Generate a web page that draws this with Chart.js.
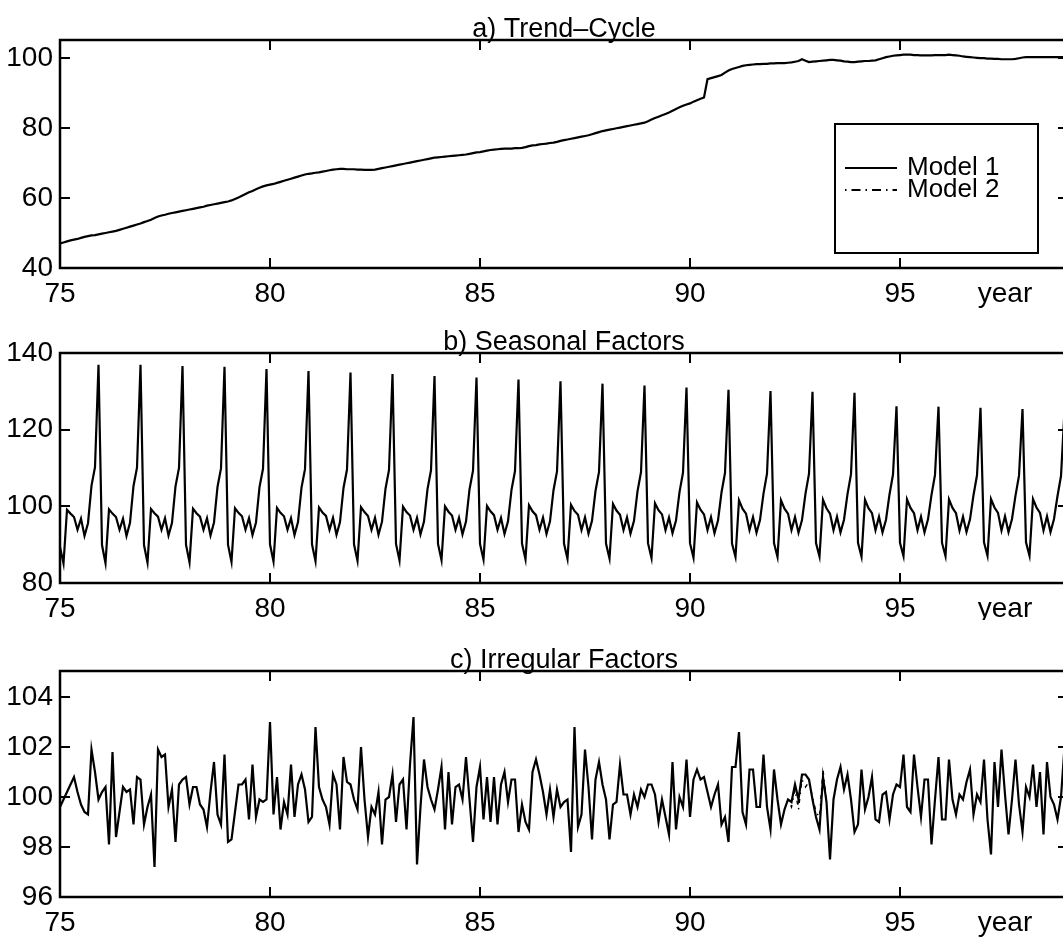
<!DOCTYPE html>
<html>
<head>
<meta charset="utf-8">
<script src="https://cdn.jsdelivr.net/npm/chart.js@4"></script>
<style>
html, body { margin: 0; padding: 0; background: #fff; overflow: hidden; }
#wrap { position: relative; width: 1063px; height: 943px; overflow: hidden; }
canvas { position: absolute; left: 0; }
</style>
</head>
<body>
<div id="wrap">
  <canvas id="trendChart" width="1070" height="320" style="top:0px"></canvas>
  <canvas id="seasonalChart" width="1070" height="300" style="top:320px"></canvas>
  <canvas id="irregularChart" width="1070" height="323" style="top:620px"></canvas>
</div>
<script>
// monthly series, first value = Jan 75
const START_YEAR = 75;
const xTicks = [75, 80, 85, 90, 95];
const trendTicks = [40, 60, 80, 100];
const seasonalTicks = [80, 100, 120, 140];
const irregularTicks = [96, 98, 100, 102, 104];
const seriesNames = ['Model 1', 'Model 2'];
const panelTitles = ['a) Trend\u2013Cycle', 'b) Seasonal Factors', 'c) Irregular Factors'];

const trendModel1 = [
  47.0, 47.3, 47.6, 47.9, 48.1, 48.3, 48.6, 48.9, 49.1, 49.3, 49.4, 49.6,
  49.8, 50.0, 50.2, 50.4, 50.6, 50.9, 51.2, 51.5, 51.8, 52.1, 52.4, 52.7,
  53.1, 53.4, 53.8, 54.3, 54.7, 55.0, 55.2, 55.5, 55.7, 55.9, 56.1, 56.3,
  56.5, 56.7, 56.9, 57.1, 57.3, 57.5, 57.8, 58.0, 58.2, 58.4, 58.6, 58.8,
  59.0, 59.3, 59.7, 60.1, 60.6, 61.1, 61.6, 62.0, 62.5, 62.9, 63.3, 63.6,
  63.8, 64.0, 64.3, 64.6, 64.9, 65.2, 65.5, 65.8, 66.1, 66.4, 66.7, 66.9,
  67.0, 67.2, 67.3, 67.5, 67.7, 67.9, 68.1, 68.2, 68.3, 68.3, 68.2, 68.2,
  68.2, 68.1, 68.1, 68.0, 68.0, 68.0, 68.1, 68.3, 68.5, 68.7, 68.9, 69.1,
  69.3, 69.5, 69.7, 69.9, 70.1, 70.3, 70.5, 70.7, 70.9, 71.1, 71.3, 71.5,
  71.6, 71.7, 71.8, 71.9, 72.0, 72.1, 72.2, 72.3, 72.4, 72.6, 72.8, 73.0,
  73.1, 73.3, 73.5, 73.7, 73.8, 73.9, 74.0, 74.1, 74.1, 74.1, 74.2, 74.2,
  74.3, 74.5, 74.8, 75.0, 75.1, 75.3, 75.4, 75.5, 75.7, 75.8, 76.0, 76.3,
  76.5, 76.7, 76.9, 77.1, 77.3, 77.5, 77.7, 77.9, 78.2, 78.5, 78.8, 79.1,
  79.3, 79.5, 79.7, 79.9, 80.1, 80.3, 80.5, 80.7, 80.9, 81.1, 81.3, 81.5,
  81.9, 82.4, 82.8, 83.2, 83.6, 84.0, 84.4, 84.9, 85.4, 85.9, 86.3, 86.7,
  87.0, 87.5, 87.9, 88.3, 88.7, 93.9, 94.2, 94.5, 94.8, 95.1, 95.8, 96.4,
  96.8, 97.1, 97.4, 97.7, 97.9, 98.0, 98.1, 98.2, 98.2, 98.3, 98.3, 98.4,
  98.4, 98.5, 98.5, 98.5, 98.6, 98.7, 98.9, 99.1, 99.6, 99.2, 98.8, 98.9,
  99.0, 99.1, 99.2, 99.3, 99.4, 99.4, 99.3, 99.2, 99.0, 98.9, 98.8, 98.8,
  98.9, 99.0, 99.1, 99.1, 99.2, 99.3, 99.6, 99.9, 100.2, 100.4, 100.6, 100.7,
  100.8, 100.9, 100.9, 100.9, 100.8, 100.8, 100.7, 100.7, 100.7, 100.7, 100.8, 100.8,
  100.8, 100.8, 100.9, 100.8, 100.7, 100.6, 100.4, 100.3, 100.2, 100.1, 100.0, 99.9,
  99.9, 99.8, 99.8, 99.7, 99.7, 99.6, 99.6, 99.6, 99.6, 99.7, 99.9, 100.1,
  100.2, 100.2, 100.2, 100.2, 100.2, 100.2, 100.2, 100.2, 100.2, 100.2, 100.2, 100.2
];

const seasonalModel1 = [
  89.4, 85.1, 99.1, 98.1, 97.2, 93.9, 96.8, 92.3, 95.6, 105.4, 110.2, 136.9,
  89.9, 85.2, 99.2, 98.1, 97.2, 93.9, 96.8, 92.3, 95.7, 105.3, 110.1, 136.9,
  89.9, 85.3, 99.3, 98.2, 97.3, 93.9, 96.9, 92.4, 95.7, 105.2, 110.0, 136.6,
  90.0, 85.4, 99.4, 98.2, 97.3, 93.9, 96.9, 92.4, 95.8, 105.1, 109.9, 136.4,
  90.0, 85.5, 99.5, 98.3, 97.4, 93.9, 96.9, 92.5, 95.8, 105.0, 109.8, 135.8,
  90.1, 85.6, 99.6, 98.3, 97.4, 93.9, 96.9, 92.5, 95.9, 104.9, 109.7, 135.3,
  90.1, 85.7, 99.7, 98.4, 97.5, 93.9, 97.0, 92.6, 95.9, 104.8, 109.6, 134.9,
  90.1, 85.8, 99.8, 98.5, 97.5, 93.9, 97.0, 92.6, 96.0, 104.6, 109.5, 134.5,
  90.2, 85.9, 99.9, 98.5, 97.6, 93.9, 97.0, 92.7, 96.0, 104.5, 109.4, 134.0,
  90.2, 86.0, 100.0, 98.6, 97.6, 93.9, 97.0, 92.7, 96.0, 104.4, 109.3, 133.6,
  90.2, 86.1, 100.1, 98.7, 97.7, 93.9, 97.0, 92.8, 96.1, 104.3, 109.2, 133.1,
  90.3, 86.2, 100.3, 98.7, 97.7, 93.9, 97.1, 92.8, 96.1, 104.2, 109.1, 132.6,
  90.3, 86.3, 100.4, 98.8, 97.8, 93.8, 97.1, 92.9, 96.2, 104.0, 109.0, 132.0,
  90.3, 86.4, 100.6, 98.9, 97.8, 93.8, 97.1, 92.9, 96.2, 103.9, 108.9, 131.5,
  90.4, 86.5, 100.8, 99.0, 97.9, 93.8, 97.1, 93.0, 96.3, 103.7, 108.8, 131.0,
  90.4, 86.6, 101.0, 99.1, 97.9, 93.8, 97.2, 93.0, 96.3, 103.6, 108.7, 130.4,
  90.3, 86.8, 101.6, 99.4, 98.1, 93.8, 97.2, 93.1, 96.4, 103.3, 108.5, 130.1,
  90.4, 86.8, 101.6, 99.4, 98.1, 93.8, 97.2, 93.1, 96.4, 103.3, 108.5, 129.9,
  90.4, 86.9, 101.7, 99.5, 98.1, 93.8, 97.3, 93.2, 96.5, 103.2, 108.4, 129.6,
  90.5, 86.9, 101.7, 99.5, 98.2, 93.8, 97.3, 93.2, 96.5, 103.1, 108.3, 126.1,
  90.5, 87.0, 101.8, 99.6, 98.2, 93.8, 97.3, 93.2, 96.6, 103.0, 108.2, 126.0,
  90.5, 87.0, 101.8, 99.6, 98.2, 93.7, 97.3, 93.3, 96.6, 102.9, 108.1, 125.7,
  90.6, 87.1, 101.9, 99.7, 98.3, 93.7, 97.4, 93.3, 96.7, 102.8, 108.0, 125.4,
  90.6, 87.1, 101.9, 99.7, 98.3, 93.7, 97.4, 93.3, 96.7, 102.7, 107.9, 125.0
];

const irregularModel1 = [
  99.6, 99.9, 100.2, 100.5, 100.8, 100.2, 99.7, 99.4, 99.3, 101.9, 101.0, 99.9,
  100.2, 100.4, 98.1, 101.8, 98.4, 99.4, 100.4, 100.2, 100.3, 98.9, 100.8, 100.7,
  98.9, 99.6, 100.1, 97.2, 101.9, 101.6, 101.7, 99.6, 100.3, 98.2, 100.5, 100.7,
  100.8, 99.7, 100.4, 100.4, 99.7, 99.5, 98.8, 100.2, 101.4, 99.3, 98.9, 101.7,
  98.2, 98.3, 99.4, 100.5, 100.5, 100.7, 99.1, 101.3, 99.2, 99.9, 99.8, 99.9,
  103.0, 99.3, 100.8, 98.7, 99.8, 99.3, 101.3, 99.2, 100.5, 100.9, 100.3, 99.0,
  99.2, 102.8, 100.4, 99.9, 99.6, 98.9, 100.9, 100.5, 98.7, 101.6, 100.6, 100.5,
  99.9, 99.5, 102.0, 99.9, 98.4, 99.6, 99.3, 100.2, 98.1, 99.9, 100.0, 100.9,
  99.0, 100.5, 100.7, 98.7, 101.3, 103.2, 97.3, 99.6, 101.5, 100.4, 99.9, 99.5,
  100.3, 101.2, 98.7, 101.0, 98.9, 100.4, 100.5, 99.9, 101.6, 99.9, 98.2, 100.4,
  101.2, 99.1, 100.8, 99.0, 100.8, 98.9, 100.5, 101.0, 99.8, 100.7, 100.7, 98.6,
  99.7, 99.0, 98.7, 101.0, 101.5, 100.9, 100.2, 99.3, 100.3, 99.2, 100.3, 99.6,
  99.8, 99.9, 97.8, 102.8, 98.8, 99.3, 101.9, 100.4, 98.3, 100.7, 101.4, 100.5,
  99.9, 98.3, 99.7, 99.8, 101.3, 100.1, 100.1, 99.3, 100.1, 99.6, 100.3, 100.0,
  100.5, 100.5, 100.1, 99.0, 99.9, 99.2, 98.5, 101.4, 98.7, 100.0, 99.6, 101.5,
  99.2, 100.7, 101.1, 100.7, 100.8, 100.2, 99.6, 100.1, 100.5, 98.9, 99.2, 98.2,
  101.2, 101.2, 102.6, 99.4, 98.9, 101.1, 101.1, 99.6, 99.6, 101.7, 99.6, 98.7,
  101.1, 99.9, 98.9, 99.5, 99.9, 99.8, 100.5, 99.9, 100.9, 100.9, 100.7, 99.9,
  99.2, 98.7, 100.8, 99.8, 97.5, 99.9, 100.7, 101.2, 100.3, 100.9, 99.9, 98.6,
  98.9, 101.1, 99.5, 100.0, 100.8, 99.1, 99.0, 100.1, 100.2, 99.1, 100.1, 100.5,
  100.4, 101.7, 99.6, 99.4, 101.7, 100.4, 99.2, 100.7, 100.7, 98.1, 99.9, 101.6,
  99.1, 99.1, 101.5, 99.9, 99.3, 100.1, 99.9, 100.6, 101.1, 99.3, 100.1, 99.8,
  101.5, 99.1, 97.7, 101.4, 99.6, 101.9, 100.1, 98.5, 99.9, 101.5, 99.7, 98.6,
  100.4, 100.0, 101.3, 99.6, 101.0, 98.5, 101.4, 100.0, 99.7, 99.1, 100.0, 102.0
];

// Model 2 only visibly departs from Model 1 here (May 92 - Apr 93)
const IRREG_M2_START = 208;
const irregularModel2 = [99.9, 99.6, 100.3, 99.5, 100.7, 100.4, 100.6, 100.0, 99.4, 99.2, 101.1, 99.8];

const FONT = "'Liberation Sans', Arial, Helvetica, sans-serif";

function toPoints(values, offset = 0) {
  return values.map((v, i) => ({ x: START_YEAR + (i + offset) / 12, y: v }));
}

const framePlugin = {
  id: 'frame',
  afterDraw(chart, args, opts) {
    const { ctx, chartArea: a, scales: { x, y } } = chart;
    ctx.save();
    ctx.strokeStyle = '#000';
    ctx.lineWidth = 2.5;
    ctx.strokeRect(a.left, a.top, a.right - a.left, a.bottom - a.top);
    ctx.lineWidth = 2;
    ctx.beginPath();
    x.ticks.forEach(t => {
      const px = Math.round(x.getPixelForValue(t.value));
      ctx.moveTo(px, a.top); ctx.lineTo(px, a.top + 10);
      ctx.moveTo(px, a.bottom); ctx.lineTo(px, a.bottom - 10);
    });
    y.ticks.forEach(t => {
      const py = Math.round(y.getPixelForValue(t.value));
      ctx.moveTo(a.left, py); ctx.lineTo(a.left + 10, py);
      ctx.moveTo(a.right, py); ctx.lineTo(a.right - 10, py);
    });
    ctx.stroke();

    ctx.fillStyle = '#000';
    ctx.font = '27px ' + FONT;
    ctx.textAlign = 'center';
    ctx.textBaseline = 'alphabetic';
    ctx.fillText(opts.title, (a.left + a.right) / 2, a.top - 3);

    ctx.font = '28px ' + FONT;
    ctx.textBaseline = 'middle';
    ctx.fillText('year', x.getPixelForValue(97.5), a.bottom + 9 + 16.8);
    ctx.restore();
  }
};

const boxLegendPlugin = {
  id: 'boxLegend',
  afterDraw(chart, args, opts) {
    if (!opts.show) return;
    const { ctx, chartArea: a } = chart;
    const right = a.right - 30, bottom = a.bottom - 15;
    const left = right - 203, top = bottom - 129;
    ctx.save();
    ctx.fillStyle = '#fff';
    ctx.fillRect(left, top, right - left, bottom - top);
    ctx.strokeStyle = '#000';
    ctx.lineWidth = 2;
    ctx.strokeRect(left, top, right - left, bottom - top);
    const rows = [top + 44, top + 66];
    ctx.lineWidth = 1.8;
    ctx.beginPath();
    ctx.moveTo(left + 10, rows[0]); ctx.lineTo(left + 62, rows[0]);
    ctx.stroke();
    ctx.setLineDash([1.5, 5, 9, 5]);
    ctx.beginPath();
    ctx.moveTo(left + 10, rows[1]); ctx.lineTo(left + 62, rows[1]);
    ctx.stroke();
    ctx.setLineDash([]);
    ctx.fillStyle = '#000';
    ctx.font = '26px ' + FONT;
    ctx.textAlign = 'left';
    ctx.textBaseline = 'middle';
    seriesNames.forEach((n, i) => ctx.fillText(n, left + 72, rows[i]));
    ctx.restore();
  }
};

function lineSet(label, points, dash, width) {
  return {
    label, data: points,
    borderColor: '#000', borderWidth: width || 2.2, borderDash: dash || [],
    pointRadius: 0, tension: 0, fill: false
  };
}

function makePanel(id, datasets, yMin, yMax, yTicks, title, layout, showLegend) {
  const ctx = document.getElementById(id).getContext('2d');
  const canvasH = document.getElementById(id).height;
  return new Chart(ctx, {
    type: 'line',
    data: { datasets },
    plugins: [framePlugin, boxLegendPlugin],
    options: {
      responsive: false,
      animation: false,
      layout: { padding: { left: 0, right: 2, top: layout.top, bottom: 0 } },
      scales: {
        x: {
          type: 'linear', min: 75, max: 99,
          grid: { display: false, drawTicks: false },
          border: { display: false },
          afterBuildTicks: s => { s.ticks = xTicks.map(v => ({ value: v })); },
          afterFit: s => { s.height = canvasH - layout.top - layout.plotH; },
          ticks: { color: '#000', padding: 9, maxRotation: 0, autoSkip: false, font: { family: FONT, size: 28 } }
        },
        y: {
          min: yMin, max: yMax,
          grid: { display: false, drawTicks: false },
          border: { display: false },
          afterBuildTicks: s => { s.ticks = yTicks.map(v => ({ value: v })); },
          afterFit: s => { s.width = 60; },
          ticks: { color: '#000', padding: 7, font: { family: FONT, size: 28 } }
        }
      },
      plugins: {
        legend: { display: false },
        tooltip: { enabled: false },
        frame: { title },
        boxLegend: { show: showLegend }
      }
    }
  });
}

function init() {
  makePanel('trendChart', [lineSet(seriesNames[0], toPoints(trendModel1))],
    40, 105.1, trendTicks, panelTitles[0], { top: 40, plotH: 228 }, true);
  makePanel('seasonalChart', [lineSet(seriesNames[0], toPoints(seasonalModel1))],
    80, 140, seasonalTicks, panelTitles[1], { top: 33, plotH: 230 }, false);
  makePanel('irregularChart', [
      lineSet(seriesNames[1], toPoints(irregularModel2, IRREG_M2_START), [1.5, 5, 4, 5], 1.4),
      lineSet(seriesNames[0], toPoints(irregularModel1))
    ],
    96, 105.04, irregularTicks, panelTitles[2], { top: 51, plotH: 226 }, false);
}

document.addEventListener('DOMContentLoaded', init);
</script>
</body>
</html>
